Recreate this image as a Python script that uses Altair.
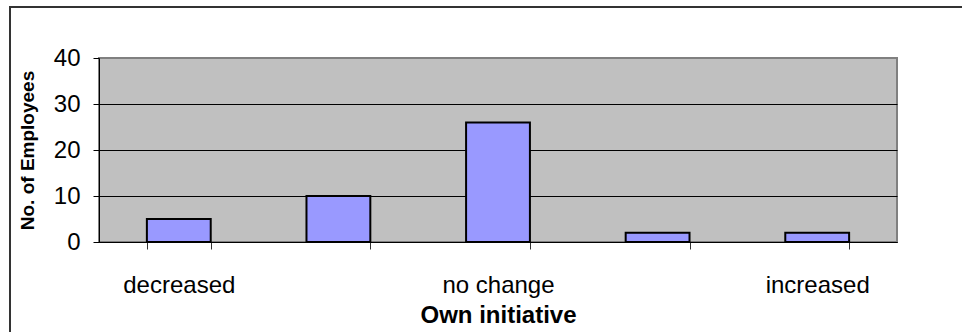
import json
import altair as alt
import pandas as pd

# Number of employees per answer on a five-point scale
points = [1, 2, 3, 4, 5]
tick_labels = ["decreased", "", "no change", "", "increased"]
employees = [5, 10, 26, 2, 2]

bars_df = pd.DataFrame({"point": points, "employees": employees})

FONT = "Liberation Sans"
W, H = 798, 184

label_expr = f"{json.dumps(tick_labels)}[datum.value - 1]"

bars = alt.Chart(bars_df).mark_bar(
    color="#9999FF", stroke="black", strokeWidth=2
).encode(
    x=alt.X(
        "point:O",
        scale=alt.Scale(paddingInner=0.6, paddingOuter=0.3),
        axis=alt.Axis(
            title="Own initiative",
            labelExpr=label_expr,
            labelAngle=0,
            labelFont=FONT,
            labelFontSize=24,
            labelColor="black",
            labelBaseline="alphabetic",
            labelPadding=43,
            tickBand="extent",
            tickSize=7,
            tickColor="#333333",
            domainColor="black",
            titleFont=FONT,
            titleFontSize=24,
            titleFontWeight="bold",
            titleColor="black",
            titleBaseline="alphabetic",
            titleX=W / 2,
            titleY=80,
            grid=False,
        ),
    ),
    y=alt.Y(
        "employees:Q",
        scale=alt.Scale(domain=[0, 40], nice=False),
        axis=alt.Axis(
            title="No. of Employees",
            values=[0, 10, 20, 30, 40],
            labelFont=FONT,
            labelFontSize=24,
            labelColor="black",
            labelPadding=13,
            tickSize=6,
            tickColor="black",
            domainColor="black",
            grid=True,
            gridColor={
                "condition": {"test": "datum.value >= 40", "value": "#808080"},
                "value": "black",
            },
            gridWidth=1,
            titleFont=FONT,
            titleFontSize=19,
            titleFontWeight="bold",
            titleColor="black",
            titleAngle=270,
            titleAlign="center",
            titleBaseline="alphabetic",
            titleX=-66,
            titleY=H / 2,
        ),
    ),
)

# Outer frame around the whole chart (right and bottom edges run past the page)
frame = alt.Chart(pd.DataFrame({"k": [0]})).mark_rect(
    fill=None, fillOpacity=0, stroke="#333333", strokeWidth=2
).encode(
    x=alt.value(-89),
    x2=alt.value(W + 90),
    y=alt.value(-51),
    y2=alt.value(H + 110),
)

chart = alt.layer(bars, frame).properties(
    width=W,
    height=H,
    padding={"left": 99, "top": 58, "right": 65, "bottom": 90},
    autosize="none",
    background="white",
).configure_view(
    fill="#C0C0C0", stroke="#808080", strokeWidth=2
)

chart.save("out.html", embed_options={"renderer": "svg", "actions": False})
